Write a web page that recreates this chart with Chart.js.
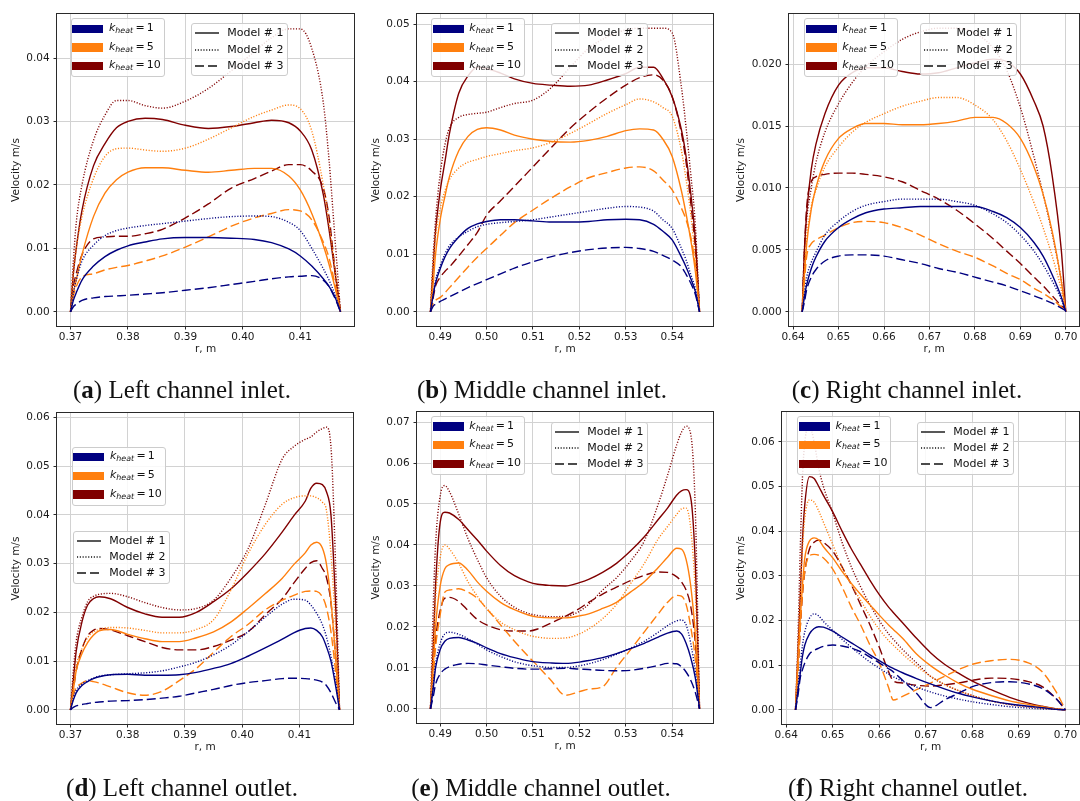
<!DOCTYPE html>
<html>
<head>
<meta charset="utf-8">
<script src="https://cdn.jsdelivr.net/npm/chart.js@4.4.1/dist/chart.umd.min.js"></script>
<style>
  body { margin: 0; background: #fff; width: 1080px; height: 801px; position: relative; overflow: hidden; font-family: "DejaVu Sans", sans-serif; }
  canvas { position: absolute; }
  .leg { position: absolute; background: rgba(255,255,255,0.85); border: 1px solid #cccccc; border-radius: 3px; box-sizing: border-box; }
  .leg .txt { position: absolute; font-size: 11px; line-height: 14px; white-space: nowrap; color: #111; }
  .leg .txt sub { font-size: 0.72em; font-style: italic; vertical-align: -0.3em; line-height: 0; }
  .leg .patch { position: absolute; width: 31px; height: 8.4px; }
  .leg svg { position: absolute; }
  .cap { position: absolute; font-family: "Liberation Serif", serif; font-size: 25px; transform: translate(-50%, -50%); white-space: nowrap; color: #111; }
</style>
</head>
<body>
<script>
// ---- (a) left channel inlet ----
const aR = [0.370, 0.3705, 0.371, 0.372, 0.374, 0.376, 0.378, 0.380, 0.383, 0.386, 0.390, 0.394, 0.398, 0.402, 0.405, 0.408, 0.410, 0.412, 0.414, 0.415, 0.416, 0.417];
const aK1M1 = [0, 0.0018, 0.003, 0.005, 0.0072, 0.0087, 0.0097, 0.0104, 0.011, 0.0115, 0.0117, 0.0117, 0.0116, 0.0114, 0.0109, 0.0099, 0.0088, 0.0072, 0.0052, 0.0040, 0.0024, 0];
const aK1M2 = [0, 0.003, 0.005, 0.008, 0.0105, 0.012, 0.0128, 0.0132, 0.0136, 0.0139, 0.0143, 0.0147, 0.015, 0.0151, 0.015, 0.0141, 0.0128, 0.0100, 0.0068, 0.0050, 0.0028, 0];
const aK1M3 = [0, 0.0008, 0.0012, 0.0018, 0.0022, 0.0024, 0.0025, 0.0026, 0.0028, 0.003, 0.0034, 0.0038, 0.0043, 0.0048, 0.0052, 0.0055, 0.0056, 0.0057, 0.0050, 0.0040, 0.0022, 0];
const aK5M1 = [0, 0.003, 0.005, 0.009, 0.015, 0.0187, 0.0208, 0.022, 0.0227, 0.0227, 0.0223, 0.022, 0.0223, 0.0226, 0.0226, 0.0214, 0.0192, 0.0155, 0.0105, 0.0075, 0.004, 0];
const aK5M2 = [0, 0.006, 0.010, 0.015, 0.021, 0.0245, 0.0257, 0.0258, 0.0255, 0.0253, 0.0258, 0.0272, 0.029, 0.0308, 0.0318, 0.0326, 0.032, 0.0285, 0.020, 0.014, 0.007, 0];
const aK5M3 = [0, 0.0025, 0.004, 0.0055, 0.006, 0.0066, 0.007, 0.0073, 0.008, 0.0088, 0.0102, 0.0118, 0.0135, 0.0148, 0.0155, 0.0161, 0.0159, 0.0145, 0.011, 0.0085, 0.0045, 0];
const aK10M1 = [0, 0.006, 0.010, 0.016, 0.023, 0.0265, 0.029, 0.030, 0.0305, 0.0303, 0.0294, 0.0289, 0.0292, 0.0298, 0.0302, 0.0298, 0.0285, 0.0255, 0.0185, 0.013, 0.0065, 0];
const aK10M2 = [0, 0.008, 0.014, 0.020, 0.027, 0.031, 0.0333, 0.0333, 0.0325, 0.0321, 0.0332, 0.0352, 0.038, 0.041, 0.0432, 0.0446, 0.0446, 0.0415, 0.033, 0.024, 0.012, 0];
const aK10M3 = [0, 0.004, 0.006, 0.009, 0.0115, 0.0118, 0.0119, 0.0119, 0.0123, 0.013, 0.0148, 0.017, 0.0195, 0.021, 0.0222, 0.0232, 0.0232, 0.0222, 0.0195, 0.015, 0.007, 0];

// ---- (b) middle channel inlet ----
const bR = [0.4879, 0.4885, 0.489, 0.490, 0.491, 0.492, 0.494, 0.496, 0.498, 0.500, 0.503, 0.506, 0.510, 0.514, 0.518, 0.522, 0.526, 0.530, 0.533, 0.536, 0.538, 0.540, 0.542, 0.543, 0.544, 0.545, 0.5459];
const bK1M1 = [0, 0.003, 0.005, 0.0075, 0.0095, 0.011, 0.013, 0.0145, 0.0153, 0.0157, 0.016, 0.016, 0.0158, 0.0156, 0.0156, 0.0157, 0.016, 0.0161, 0.016, 0.0152, 0.014, 0.0125, 0.0095, 0.0078, 0.0058, 0.0035, 0];
const bK1M2 = [0, 0.003, 0.0055, 0.008, 0.010, 0.0115, 0.013, 0.014, 0.0148, 0.0152, 0.0155, 0.0157, 0.016, 0.0165, 0.017, 0.0175, 0.018, 0.0183, 0.0182, 0.0175, 0.016, 0.0145, 0.011, 0.009, 0.0065, 0.004, 0];
const bK1M3 = [0, 0.001, 0.0013, 0.0018, 0.0022, 0.0026, 0.0034, 0.0042, 0.0049, 0.0056, 0.0066, 0.0076, 0.0087, 0.0096, 0.0103, 0.0108, 0.0111, 0.0112, 0.011, 0.0105, 0.0098, 0.009, 0.0078, 0.0065, 0.005, 0.003, 0];
const bK5M1 = [0, 0.005, 0.010, 0.016, 0.020, 0.0235, 0.028, 0.0305, 0.0317, 0.032, 0.0316, 0.0307, 0.030, 0.0296, 0.0295, 0.0298, 0.0305, 0.0315, 0.0318, 0.0316, 0.030, 0.027, 0.021, 0.017, 0.0125, 0.007, 0];
const bK5M2 = [0, 0.008, 0.013, 0.018, 0.021, 0.023, 0.025, 0.026, 0.0265, 0.027, 0.0275, 0.028, 0.0285, 0.0295, 0.031, 0.0327, 0.0345, 0.036, 0.037, 0.0365, 0.0355, 0.034, 0.028, 0.023, 0.017, 0.009, 0];
const bK5M3 = [0, 0.0015, 0.002, 0.0025, 0.0033, 0.0042, 0.006, 0.0078, 0.0095, 0.011, 0.0133, 0.0155, 0.0177, 0.0198, 0.0217, 0.0233, 0.0242, 0.025, 0.0252, 0.0245, 0.0229, 0.0212, 0.018, 0.016, 0.013, 0.008, 0];
const bK10M1 = [0, 0.008, 0.014, 0.021, 0.026, 0.031, 0.038, 0.041, 0.0425, 0.0423, 0.0415, 0.0405, 0.0397, 0.0394, 0.0392, 0.0394, 0.0403, 0.0414, 0.0425, 0.0425, 0.0406, 0.0374, 0.0316, 0.027, 0.0206, 0.0125, 0];
const bK10M2 = [0, 0.010, 0.016, 0.024, 0.029, 0.032, 0.0338, 0.0343, 0.0345, 0.0347, 0.0355, 0.0362, 0.0368, 0.039, 0.0425, 0.0458, 0.0478, 0.049, 0.0493, 0.0493, 0.0493, 0.0485, 0.039, 0.032, 0.024, 0.015, 0];
const bK10M3 = [0, 0.0025, 0.0045, 0.006, 0.007, 0.0078, 0.0097, 0.0117, 0.0138, 0.0168, 0.0193, 0.0218, 0.0252, 0.0286, 0.0319, 0.0347, 0.0372, 0.0394, 0.0407, 0.0412, 0.0403, 0.0374, 0.031, 0.026, 0.019, 0.011, 0];

// ---- (c) right channel inlet ----
const cR = [0.642, 0.6425, 0.643, 0.644, 0.645, 0.647, 0.650, 0.653, 0.656, 0.660, 0.664, 0.668, 0.672, 0.676, 0.680, 0.684, 0.687, 0.690, 0.693, 0.695, 0.697, 0.699, 0.700];
const cK1M1 = [0, 0.0012, 0.0022, 0.0035, 0.0044, 0.0057, 0.0068, 0.0075, 0.008, 0.0083, 0.0084, 0.0085, 0.0085, 0.0085, 0.0085, 0.0081, 0.0076, 0.0068, 0.0056, 0.0045, 0.003, 0.0012, 0];
const cK1M2 = [0, 0.0015, 0.0028, 0.004, 0.0048, 0.0062, 0.0073, 0.0081, 0.0086, 0.0089, 0.0091, 0.0091, 0.0091, 0.0089, 0.0086, 0.0079, 0.0072, 0.0062, 0.0049, 0.0038, 0.0025, 0.001, 0];
const cK1M3 = [0, 0.0008, 0.0018, 0.0028, 0.0034, 0.0041, 0.0045, 0.0046, 0.0046, 0.0045, 0.0042, 0.0039, 0.0035, 0.0032, 0.0028, 0.0024, 0.0021, 0.0017, 0.0013, 0.001, 0.0007, 0.0003, 0.0001];
const cK5M1 = [0, 0.003, 0.0055, 0.0083, 0.010, 0.0122, 0.014, 0.0148, 0.0152, 0.0152, 0.0151, 0.0151, 0.0152, 0.0154, 0.0157, 0.0157, 0.0152, 0.014, 0.0117, 0.0095, 0.0065, 0.0025, 0];
const cK5M2 = [0, 0.0035, 0.006, 0.0085, 0.0098, 0.0117, 0.0133, 0.0145, 0.0153, 0.016, 0.0166, 0.017, 0.0173, 0.0173, 0.0167, 0.0155, 0.0138, 0.0115, 0.0088, 0.0068, 0.0045, 0.0018, 0];
const cK5M3 = [0, 0.0025, 0.0045, 0.0055, 0.0058, 0.0062, 0.0068, 0.0072, 0.0073, 0.0072, 0.0068, 0.0062, 0.0055, 0.0049, 0.0044, 0.0037, 0.0031, 0.0026, 0.0019, 0.0015, 0.001, 0.0004, 0.0001];
const cK10M1 = [0, 0.005, 0.008, 0.0115, 0.0135, 0.016, 0.0183, 0.0193, 0.0197, 0.0197, 0.0194, 0.0192, 0.0193, 0.0197, 0.0201, 0.0204, 0.0202, 0.0192, 0.017, 0.015, 0.011, 0.005, 0];
const cK10M2 = [0, 0.005, 0.0075, 0.010, 0.012, 0.0145, 0.0168, 0.0185, 0.0198, 0.021, 0.022, 0.0226, 0.0229, 0.0229, 0.0225, 0.0213, 0.0195, 0.0165, 0.0125, 0.0095, 0.0063, 0.0025, 0];
const cK10M3 = [0, 0.005, 0.0085, 0.0105, 0.0109, 0.0111, 0.0112, 0.0112, 0.0111, 0.0109, 0.0105, 0.0098, 0.0091, 0.0082, 0.0071, 0.0059, 0.0049, 0.0039, 0.0028, 0.0021, 0.0013, 0.0005, 0.0002];

// ---- (d) left channel outlet ----
const dR = [0.370, 0.3705, 0.371, 0.372, 0.373, 0.374, 0.375, 0.377, 0.380, 0.383, 0.386, 0.389, 0.392, 0.395, 0.398, 0.401, 0.404, 0.407, 0.409, 0.411, 0.412, 0.413, 0.414, 0.4147, 0.4155, 0.4163, 0.417];
const dK1M1 = [0, 0.002, 0.0035, 0.005, 0.0058, 0.0064, 0.0068, 0.0072, 0.0073, 0.0071, 0.0071, 0.0072, 0.0077, 0.0085, 0.0095, 0.011, 0.0127, 0.0145, 0.0158, 0.0167, 0.0168, 0.0163, 0.015, 0.013, 0.010, 0.005, 0];
const dK1M2 = [0, 0.0025, 0.004, 0.0053, 0.006, 0.0065, 0.0069, 0.0072, 0.0074, 0.0076, 0.008, 0.0088, 0.0098, 0.0113, 0.0133, 0.016, 0.019, 0.0217, 0.0227, 0.0225, 0.0215, 0.0198, 0.0175, 0.015, 0.011, 0.006, 0];
const dK1M3 = [0, 0.0005, 0.0008, 0.0011, 0.0013, 0.0015, 0.0016, 0.0018, 0.0019, 0.0021, 0.0024, 0.0028, 0.0035, 0.0042, 0.005, 0.0056, 0.006, 0.0064, 0.0065, 0.0064, 0.0063, 0.0061, 0.0057, 0.005, 0.0035, 0.0015, 0];
const dK5M1 = [0, 0.004, 0.008, 0.0115, 0.0138, 0.0153, 0.0162, 0.0165, 0.0155, 0.0146, 0.014, 0.014, 0.0148, 0.016, 0.018, 0.0208, 0.0238, 0.027, 0.0298, 0.0322, 0.0338, 0.0344, 0.0332, 0.030, 0.0224, 0.011, 0];
const dK5M2 = [0, 0.005, 0.009, 0.0125, 0.0148, 0.016, 0.0165, 0.0169, 0.0168, 0.0163, 0.0158, 0.0158, 0.0165, 0.0185, 0.0245, 0.032, 0.038, 0.0422, 0.0435, 0.0439, 0.0439, 0.0435, 0.0426, 0.041, 0.032, 0.017, 0];
const dK5M3 = [0, 0.003, 0.0045, 0.0055, 0.006, 0.0058, 0.0055, 0.0047, 0.0035, 0.003, 0.0038, 0.006, 0.0085, 0.0118, 0.015, 0.0175, 0.0205, 0.0225, 0.0235, 0.0243, 0.0244, 0.0243, 0.0232, 0.021, 0.016, 0.008, 0];
const dK10M1 = [0, 0.006, 0.012, 0.018, 0.0215, 0.0228, 0.0232, 0.0228, 0.021, 0.0197, 0.019, 0.019, 0.020, 0.0222, 0.0248, 0.0282, 0.032, 0.0365, 0.0398, 0.0428, 0.0455, 0.0465, 0.0462, 0.0448, 0.040, 0.022, 0];
const dK10M2 = [0, 0.008, 0.014, 0.019, 0.0222, 0.0233, 0.0237, 0.0239, 0.0232, 0.022, 0.021, 0.0205, 0.0208, 0.0225, 0.027, 0.033, 0.042, 0.0515, 0.054, 0.0555, 0.056, 0.057, 0.0577, 0.058, 0.054, 0.030, 0];
const dK10M3 = [0, 0.004, 0.008, 0.0125, 0.0152, 0.0163, 0.0167, 0.0164, 0.0152, 0.014, 0.0128, 0.0123, 0.0123, 0.013, 0.0143, 0.016, 0.0195, 0.0228, 0.026, 0.029, 0.0302, 0.0306, 0.029, 0.0272, 0.022, 0.011, 0];

// ---- (e) middle channel outlet ----
const eR = [0.4879, 0.4885, 0.489, 0.490, 0.491, 0.492, 0.494, 0.496, 0.498, 0.500, 0.503, 0.506, 0.509, 0.511, 0.514, 0.517, 0.520, 0.522, 0.525, 0.528, 0.531, 0.534, 0.537, 0.539, 0.541, 0.542, 0.543, 0.544, 0.545, 0.5459];
const eK1M1 = [0, 0.005, 0.010, 0.0145, 0.0165, 0.0172, 0.0174, 0.0168, 0.016, 0.0149, 0.0135, 0.0125, 0.0117, 0.0114, 0.0112, 0.0111, 0.0114, 0.0118, 0.0125, 0.0135, 0.0147, 0.016, 0.0175, 0.0185, 0.019, 0.0183, 0.016, 0.0125, 0.0075, 0];
const eK1M2 = [0, 0.006, 0.011, 0.016, 0.0183, 0.0187, 0.0182, 0.0171, 0.0158, 0.0144, 0.0128, 0.0115, 0.0107, 0.0104, 0.0101, 0.0101, 0.0105, 0.011, 0.012, 0.0133, 0.0148, 0.0165, 0.0187, 0.0203, 0.0215, 0.0217, 0.0205, 0.016, 0.009, 0];
const eK1M3 = [0, 0.003, 0.006, 0.0085, 0.0097, 0.0103, 0.0109, 0.0111, 0.011, 0.0107, 0.0103, 0.0099, 0.0097, 0.0097, 0.0098, 0.0099, 0.0097, 0.0096, 0.0094, 0.0093, 0.0094, 0.0099, 0.0106, 0.0111, 0.011, 0.0103, 0.009, 0.007, 0.004, 0];
const eK5M1 = [0, 0.010, 0.020, 0.030, 0.0342, 0.0352, 0.0356, 0.0338, 0.031, 0.0287, 0.026, 0.0242, 0.0229, 0.0224, 0.0222, 0.0222, 0.0227, 0.0232, 0.0245, 0.026, 0.0285, 0.031, 0.0345, 0.037, 0.0392, 0.039, 0.0365, 0.030, 0.018, 0];
const eK5M2 = [0, 0.015, 0.027, 0.037, 0.040, 0.039, 0.0355, 0.031, 0.0275, 0.0245, 0.0212, 0.0193, 0.018, 0.0175, 0.0172, 0.0173, 0.0183, 0.0195, 0.022, 0.0255, 0.0305, 0.0355, 0.0415, 0.0445, 0.0475, 0.0488, 0.049, 0.044, 0.028, 0];
const eK5M3 = [0, 0.008, 0.015, 0.023, 0.0285, 0.029, 0.0293, 0.0285, 0.027, 0.0245, 0.0205, 0.0165, 0.0128, 0.0105, 0.0068, 0.0033, 0.0042, 0.0048, 0.0054, 0.0101, 0.0144, 0.0188, 0.0232, 0.026, 0.0277, 0.0275, 0.0255, 0.020, 0.012, 0];
const eK10M1 = [0, 0.015, 0.030, 0.0455, 0.048, 0.0478, 0.0462, 0.0437, 0.0412, 0.0385, 0.035, 0.0325, 0.031, 0.0304, 0.0301, 0.030, 0.0308, 0.0316, 0.0333, 0.0355, 0.0385, 0.042, 0.0462, 0.049, 0.0522, 0.0532, 0.0535, 0.0515, 0.035, 0];
const eK10M2 = [0, 0.025, 0.040, 0.052, 0.0545, 0.053, 0.0475, 0.0415, 0.0365, 0.032, 0.0275, 0.0248, 0.0233, 0.0228, 0.0225, 0.0226, 0.0238, 0.0255, 0.029, 0.032, 0.036, 0.041, 0.050, 0.057, 0.0645, 0.0675, 0.069, 0.067, 0.048, 0];
const eK10M3 = [0, 0.010, 0.017, 0.024, 0.027, 0.0272, 0.0262, 0.024, 0.0218, 0.0205, 0.0193, 0.019, 0.019, 0.0195, 0.021, 0.0226, 0.0245, 0.026, 0.028, 0.0297, 0.0313, 0.0326, 0.0334, 0.0333, 0.0322, 0.031, 0.029, 0.025, 0.016, 0];

// ---- (f) right channel outlet ----
const fR = [0.642, 0.6425, 0.643, 0.6435, 0.644, 0.645, 0.646, 0.647, 0.648, 0.650, 0.652, 0.654, 0.656, 0.658, 0.660, 0.662, 0.663, 0.665, 0.668, 0.671, 0.674, 0.677, 0.680, 0.684, 0.688, 0.692, 0.695, 0.698, 0.700];
const fK1M1 = [0, 0.004, 0.008, 0.012, 0.0145, 0.017, 0.0182, 0.0186, 0.0185, 0.0176, 0.0163, 0.015, 0.0137, 0.0123, 0.011, 0.0098, 0.0093, 0.0083, 0.007, 0.0058, 0.0047, 0.0037, 0.0029, 0.002, 0.0013, 0.0008, 0.0005, 0.0001, 0];
const fK1M2 = [0, 0.005, 0.010, 0.0145, 0.0175, 0.0205, 0.0215, 0.021, 0.0198, 0.0178, 0.0158, 0.014, 0.0123, 0.0107, 0.0093, 0.008, 0.0074, 0.0064, 0.0051, 0.004, 0.0031, 0.0024, 0.0018, 0.0012, 0.0007, 0.0004, 0.0002, 0.0001, 0];
const fK1M3 = [0, 0.003, 0.007, 0.009, 0.0105, 0.0125, 0.0133, 0.0138, 0.0142, 0.0145, 0.0143, 0.0138, 0.013, 0.0118, 0.0105, 0.0092, 0.0085, 0.0066, 0.0037, 0.0005, 0.0022, 0.0037, 0.0052, 0.0061, 0.0063, 0.0058, 0.0048, 0.0025, 0];
const fK5M1 = [0, 0.010, 0.020, 0.028, 0.034, 0.0378, 0.0385, 0.038, 0.0365, 0.034, 0.031, 0.0283, 0.0258, 0.0235, 0.0212, 0.019, 0.018, 0.016, 0.0125, 0.0099, 0.0078, 0.006, 0.0046, 0.0032, 0.002, 0.0012, 0.0007, 0.0002, 0];
const fK5M2 = [0, 0.012, 0.025, 0.036, 0.043, 0.047, 0.0465, 0.0445, 0.042, 0.037, 0.032, 0.028, 0.0245, 0.021, 0.018, 0.0155, 0.0145, 0.0125, 0.0098, 0.0075, 0.0057, 0.0043, 0.0032, 0.002, 0.0012, 0.0007, 0.0004, 0.0001, 0];
const fK5M3 = [0, 0.008, 0.018, 0.026, 0.031, 0.0345, 0.0348, 0.0346, 0.034, 0.0315, 0.0275, 0.023, 0.019, 0.0145, 0.0105, 0.005, 0.0022, 0.003, 0.0045, 0.006, 0.0075, 0.009, 0.0102, 0.011, 0.0113, 0.0105, 0.0085, 0.004, 0];
const fK10M1 = [0, 0.012, 0.025, 0.038, 0.046, 0.0522, 0.0518, 0.050, 0.048, 0.0443, 0.040, 0.036, 0.0325, 0.029, 0.0258, 0.023, 0.0218, 0.0195, 0.016, 0.0128, 0.0102, 0.0082, 0.0064, 0.0045, 0.0028, 0.0015, 0.0008, 0.0002, 0];
const fK10M2 = [0, 0.015, 0.035, 0.052, 0.060, 0.0635, 0.060, 0.054, 0.050, 0.044, 0.0375, 0.032, 0.0275, 0.0235, 0.020, 0.017, 0.0158, 0.0135, 0.0105, 0.0075, 0.0057, 0.0043, 0.0032, 0.002, 0.0012, 0.0007, 0.0004, 0.0001, 0];
const fK10M3 = [0, 0.008, 0.018, 0.026, 0.031, 0.036, 0.0375, 0.038, 0.0375, 0.0355, 0.032, 0.028, 0.0235, 0.019, 0.014, 0.0085, 0.0065, 0.006, 0.0055, 0.0053, 0.0056, 0.006, 0.0066, 0.0071, 0.007, 0.0063, 0.0052, 0.0025, 0];

// tick labels
const xTicksLeft = [0.37, 0.38, 0.39, 0.40, 0.41];
const xTicksMid = [0.49, 0.50, 0.51, 0.52, 0.53, 0.54];
const xTicksRight = [0.64, 0.65, 0.66, 0.67, 0.68, 0.69, 0.70];
const yTicks04 = [0, 0.01, 0.02, 0.03, 0.04];
const yTicks05 = [0, 0.01, 0.02, 0.03, 0.04, 0.05];
const yTicks06 = [0, 0.01, 0.02, 0.03, 0.04, 0.05, 0.06];
const yTicks07 = [0, 0.01, 0.02, 0.03, 0.04, 0.05, 0.06, 0.07];
const yTicks020 = [0, 0.005, 0.010, 0.015, 0.020];

const kheatLabels = ['1', '5', '10'];
const modelLabels = ['Model # 1', 'Model # 2', 'Model # 3'];

const kColors = ['#000080', '#ff7f0e', '#800000'];
const mDash = [[], [1.1, 1.7], [9, 4]];

const panels = [
  { tag: 'a', cap: 'Left channel inlet.', r: aR, s: [aK1M1, aK1M2, aK1M3, aK5M1, aK5M2, aK5M3, aK10M1, aK10M2, aK10M3],
    col: 0, row: 0, box: [57, 14, 354, 326], x: [0.36765, 0.41935], y: [-0.00224, 0.04694], xt: xTicksLeft, yt: yTicks04, yd: 2,
    ylab: 16.5, kLeg: [70.7, 18.3], mLeg: [190.7, 23.3], capXY: [182, 390] },
  { tag: 'b', cap: 'Middle channel inlet.', r: bR, s: [bK1M1, bK1M2, bK1M3, bK5M1, bK5M2, bK5M3, bK10M1, bK10M2, bK10M3],
    col: 1, row: 0, box: [417, 14, 713, 326], x: [0.4850, 0.5488], y: [-0.00247, 0.05177], xt: xTicksMid, yt: yTicks05, yd: 2,
    ylab: 16, kLeg: [431, 18.3], mLeg: [550.7, 23.3], capXY: [542, 390] },
  { tag: 'c', cap: 'Right channel inlet.', r: cR, s: [cK1M1, cK1M2, cK1M3, cK5M1, cK5M2, cK5M3, cK10M1, cK10M2, cK10M3],
    col: 2, row: 0, box: [789, 14, 1079, 326], x: [0.6391, 0.7029], y: [-0.001145, 0.024045], xt: xTicksRight, yt: yTicks020, yd: 3,
    ylab: 21.7, kLeg: [804, 18.3], mLeg: [920, 23.3], capXY: [907, 390] },
  { tag: 'd', cap: 'Left channel outlet.', r: dR, s: [dK1M1, dK1M2, dK1M3, dK5M1, dK5M2, dK5M3, dK10M1, dK10M2, dK10M3],
    col: 0, row: 1, box: [57, 413, 353, 724], x: [0.36765, 0.41935], y: [-0.0029, 0.0609], xt: xTicksLeft, yt: yTicks06, yd: 2,
    ylab: 16.5, kLeg: [71.7, 446.7], mLeg: [72.7, 530.7], capXY: [182, 788] },
  { tag: 'e', cap: 'Middle channel outlet.', r: eR, s: [eK1M1, eK1M2, eK1M3, eK5M1, eK5M2, eK5M3, eK10M1, eK10M2, eK10M3],
    col: 1, row: 1, box: [417, 412, 713, 723], x: [0.4850, 0.5488], y: [-0.00345, 0.07245], xt: xTicksMid, yt: yTicks07, yd: 2,
    ylab: 16, kLeg: [431, 416], mLeg: [550.7, 421.7], capXY: [541, 788] },
  { tag: 'f', cap: 'Right channel outlet.', r: fR, s: [fK1M1, fK1M2, fK1M3, fK5M1, fK5M2, fK5M3, fK10M1, fK10M2, fK10M3],
    col: 2, row: 1, box: [782, 412, 1079, 724], x: [0.6391, 0.7029], y: [-0.003175, 0.066675], xt: xTicksRight, yt: yTicks06, yd: 2,
    ylab: 21.7, kLeg: [797.3, 416], mLeg: [916.7, 421.7], capXY: [908, 788] }
];

Chart.defaults.font.family = "'DejaVu Sans', sans-serif";
Chart.defaults.font.size = 10.5;
Chart.defaults.color = '#1a1a1a';

const framePlugin = {
  id: 'frame',
  afterDatasetsDraw(chart) {
    const a = chart.chartArea, ctx = chart.ctx;
    ctx.save();
    ctx.strokeStyle = '#2a2a2a';
    ctx.lineWidth = 1;
    ctx.strokeRect(Math.round(a.left) - 0.5, Math.round(a.top) - 0.5, Math.round(a.right - a.left) + 1, Math.round(a.bottom - a.top) + 1);
    ctx.restore();
  }
};

function axisGrid() {
  return { color: '#d2d2d2', lineWidth: 1, tickLength: 3.5, tickColor: '#2a2a2a', tickWidth: 1 };
}

function makePanel(p) {
  const cx0 = p.col * 360, cy0 = p.row * 400;
  const cv = document.createElement('canvas');
  cv.width = 360; cv.height = 400;
  cv.style.left = cx0 + 'px';
  cv.style.top = cy0 + 'px';
  document.body.appendChild(cv);

  const [l, t, r, b] = p.box;
  const yW = l - cx0, xH = 30;
  const datasets = p.s.map((ys, i) => ({
    data: p.r.map((x, j) => ({ x: x, y: ys[j] })),
    borderColor: kColors[Math.floor(i / 3)],
    borderDash: mDash[i % 3],
    borderWidth: 1.4,
    pointRadius: 0,
    fill: false,
    cubicInterpolationMode: 'monotone'
  }));

  new Chart(cv, {
    type: 'line',
    data: { datasets: datasets },
    options: {
      responsive: false,
      animation: false,
      devicePixelRatio: 1,
      events: [],
      layout: { padding: { left: 0, top: t - cy0, right: 360 - (r - cx0), bottom: 400 - (b - cy0) - xH } },
      plugins: { legend: { display: false }, tooltip: { enabled: false } },
      scales: {
        x: {
          type: 'linear', min: p.x[0], max: p.x[1],
          afterBuildTicks: ax => { ax.ticks = p.xt.map(v => ({ value: v })); },
          afterFit: ax => { ax.height = xH; },
          ticks: { callback: v => v.toFixed(2), padding: 1.5, maxRotation: 0, autoSkip: false },
          grid: axisGrid(),
          border: { display: false },
          title: { display: true, text: 'r, m', padding: { top: 0, bottom: 0 } }
        },
        y: {
          type: 'linear', min: p.y[0], max: p.y[1],
          afterBuildTicks: ax => { ax.ticks = p.yt.map(v => ({ value: v })); },
          afterFit: ax => { ax.width = yW; },
          ticks: { callback: v => v.toFixed(p.yd), padding: 3.8, autoSkip: false },
          grid: axisGrid(),
          border: { display: false },
          title: { display: true, text: 'Velocity m/s', padding: { top: p.ylab - 6.3, bottom: 0 } }
        }
      }
    },
    plugins: [framePlugin]
  });

  // legend with the heating factor colours
  const kl = document.createElement('div');
  kl.className = 'leg';
  kl.style.left = p.kLeg[0] + 'px'; kl.style.top = p.kLeg[1] + 'px';
  kl.style.width = '94px'; kl.style.height = '59px';
  kheatLabels.forEach((n, i) => {
    const cy = 9.6 + i * 18.7;
    const pa = document.createElement('div');
    pa.className = 'patch';
    pa.style.left = '0.6px'; pa.style.top = (cy - 4.2) + 'px';
    pa.style.background = kColors[i];
    kl.appendChild(pa);
    const tx = document.createElement('div');
    tx.className = 'txt';
    tx.style.left = '37.3px'; tx.style.top = (cy - 8) + 'px';
    tx.innerHTML = '<i>k</i><sub>heat</sub>\u2009=\u2009' + n;
    kl.appendChild(tx);
  });
  document.body.appendChild(kl);

  // legend with the line styles
  const ml = document.createElement('div');
  ml.className = 'leg';
  ml.style.left = p.mLeg[0] + 'px'; ml.style.top = p.mLeg[1] + 'px';
  ml.style.width = '97px'; ml.style.height = '53px';
  modelLabels.forEach((name, i) => {
    const cy = 9 + i * 16.3;
    const sv = document.createElementNS('http://www.w3.org/2000/svg', 'svg');
    sv.setAttribute('width', '24'); sv.setAttribute('height', '4');
    sv.style.left = '3.3px'; sv.style.top = (cy - 2) + 'px';
    const ln = document.createElementNS('http://www.w3.org/2000/svg', 'line');
    ln.setAttribute('x1', '0'); ln.setAttribute('x2', '24');
    ln.setAttribute('y1', '2'); ln.setAttribute('y2', '2');
    ln.setAttribute('stroke', '#111'); ln.setAttribute('stroke-width', '1.4');
    if (mDash[i].length) ln.setAttribute('stroke-dasharray', mDash[i].join(' '));
    sv.appendChild(ln);
    ml.appendChild(sv);
    const tx = document.createElement('div');
    tx.className = 'txt';
    tx.style.left = '35.6px'; tx.style.top = (cy - 7) + 'px';
    tx.textContent = name;
    ml.appendChild(tx);
  });
  document.body.appendChild(ml);

  const cap = document.createElement('div');
  cap.className = 'cap';
  cap.style.left = p.capXY[0] + 'px'; cap.style.top = p.capXY[1] + 'px';
  cap.innerHTML = '(<b>' + p.tag + '</b>) ' + p.cap;
  document.body.appendChild(cap);
}

panels.forEach(makePanel);
</script>
</body>
</html>
